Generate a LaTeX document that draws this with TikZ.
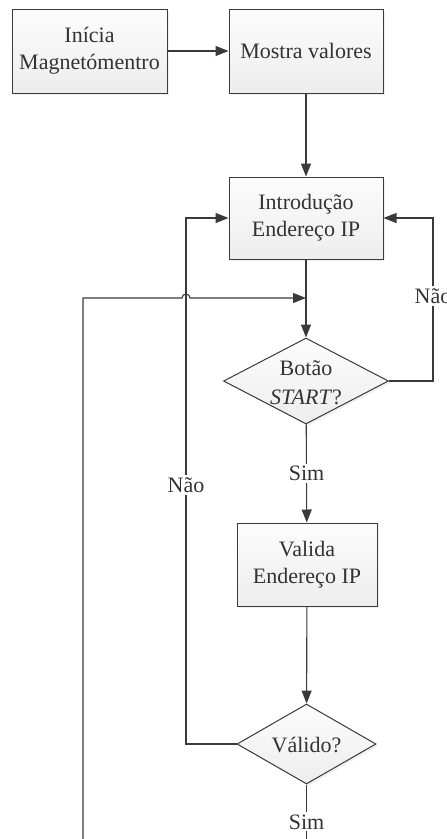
\documentclass[tikz,border=0pt]{standalone}
\usepackage{fontspec}
\setmainfont{Liberation Serif}
\usetikzlibrary{arrows.meta,shapes.geometric,shadows}
\definecolor{edge}{HTML}{3A3A3A}
\definecolor{ink}{HTML}{333333}
\tikzset{
  procbox/.style={draw=edge, line width=1pt, top color=gray!2, bottom color=gray!14,
    drop shadow={opacity=0.12, shadow xshift=2pt, shadow yshift=-2pt},
    align=center, inner sep=0pt, text=ink},
  decision/.style={diamond, draw=edge, line width=1pt, top color=gray!2, bottom color=gray!14,
    drop shadow={opacity=0.12, shadow xshift=2pt, shadow yshift=-2pt}, inner sep=0pt},
  caption/.style={align=center, text=ink, inner sep=0pt},
  conn/.style={draw=edge, line width=1.1pt},
  arr/.style={conn, -{Triangle[length=13pt,width=10pt]}},
  lbl/.style={fill=white, inner sep=2pt, text=ink}
}
\begin{document}
\begin{tikzpicture}[x=1pt, y=-1pt, font=\fontsize{22}{27}\selectfont]
\useasboundingbox (0,0) rectangle (447,839);

% process boxes
\node[procbox, minimum width=155pt, minimum height=84pt] (ini) at (89.5,51) {Inícia\\Magnetómentro};
\node[procbox, minimum width=154pt, minimum height=84pt] (mos) at (306,51) {Mostra valores};
\node[procbox, minimum width=154pt, minimum height=82pt] (intro) at (306,218) {Introdução\\Endereço IP};
\node[procbox, minimum width=140pt, minimum height=83pt] (val) at (307,564.5) {Valida\\Endereço IP};

% decisions
\node[decision, minimum width=165pt, minimum height=86pt] (d1) at (306,381) {};
\node[caption, font=\fontsize{22}{29}\selectfont] (d1t) at (306,383) {Botão\\\textit{START}?};
\node[decision, minimum width=139pt, minimum height=80pt] (d2) at (306.5,744) {};
\node[caption] (d2t) at (306.5,745) {Válido?};

% rails and free ends
\coordinate (leftrail) at (186,0);
\coordinate (rightrail) at (433,0);
\coordinate (j) at (306,298);
\coordinate (lb) at (83,850);
\coordinate (sb) at (306.5,850);

% main flow
\draw[arr] (ini) -- (mos);
\draw[arr] (mos) -- (intro);
\draw[arr] (intro) -- (d1);
\draw[arr] (d1) -- node[lbl] (sim1) {Sim} (val);
\draw[arr] (val) -- (d2);
\draw[conn] (d2) -- node[lbl, pos=0.57] (sim2) {Sim} (sb);

% "Não" loops back to the address input
\draw[arr] (d1.east) -- (d1.east -| rightrail) -- (intro.east -| rightrail) -- (intro.east);
\node[lbl] (nao2) at (433,296) {Não};
\draw[arr] (d2.west) -- (d2.west -| leftrail) -- (intro.west -| leftrail) -- (intro.west);
\node[lbl] (nao1) at (186,485) {Não};

% return line hopping over the left rail
\draw[arr] (lb) -- (lb |- j) -- ([xshift=-4pt]leftrail |- j)
  arc[start angle=180, end angle=360, radius=4] -- (j);
\end{tikzpicture}
\end{document}
